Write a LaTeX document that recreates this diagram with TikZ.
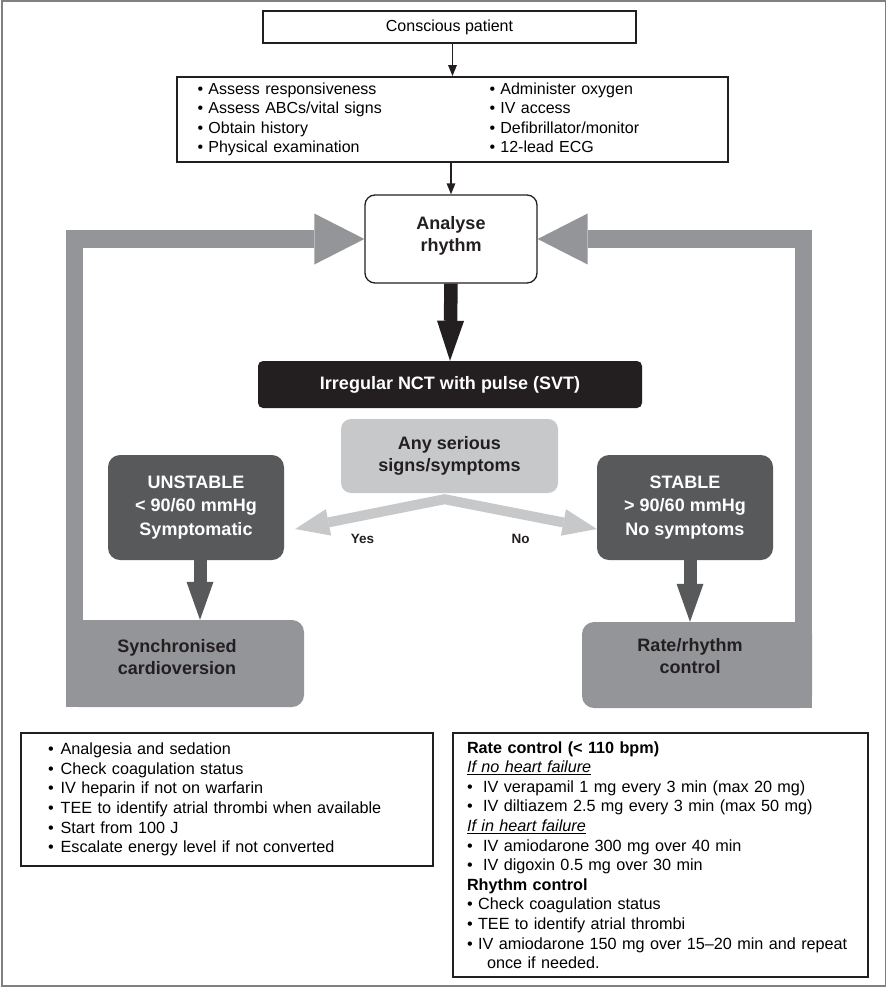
\documentclass[tikz,border=0pt]{standalone}
\usepackage{fontspec}
\setmainfont{Liberation Sans}
\usetikzlibrary{arrows.meta, positioning}

\definecolor{bandgray}{HTML}{939598}
\definecolor{boxdark}{HTML}{58595B}
\definecolor{boxlight}{HTML}{C7C8CA}
\definecolor{inkblack}{HTML}{231F20}

\tikzset{
  linebox/.style={draw=inkblack, line width=1.8pt, fill=white, inner sep=0pt,
    font=\fontsize{16}{19.3}\selectfont},
  softbox/.style={rounded corners=10pt, inner sep=0pt, align=center,
    font=\bfseries\fontsize{18}{22}\selectfont},
  listtext/.style={align=left, font=\fontsize{16.2}{19.6}\selectfont},
  thinarrow/.style={->, line width=1.3pt, draw=inkblack},
  blackband/.style={line width=13.5pt, draw=inkblack,
    -{Triangle[length=40pt, width=27pt, line width=0pt]}},
  darkband/.style={line width=13pt, draw=boxdark,
    -{Triangle[length=38pt, width=27pt, line width=0pt]}},
  forkband/.style={line width=10pt, draw=boxlight,
    {Triangle[length=34pt, width=27pt, line width=0pt]}-{Triangle[length=34pt, width=27pt, line width=0pt]}},
  loopband/.style={line width=17.5pt, draw=bandgray,
    -{Triangle[length=50pt, width=51pt, line width=0pt]}},
  answer/.style={font=\bfseries\fontsize{13.5}{16}\selectfont, text=inkblack, inner sep=0pt}
}

\begin{document}
\begin{tikzpicture}[x=1pt, y=-1pt, >={Triangle[length=11pt, width=8.5pt]}]
  \useasboundingbox (0,0) rectangle (888,988);

  % Frame
  \draw[gray, line width=1.2pt] (2,1) rectangle (885.5,986);

  % First steps
  \node[linebox, minimum width=373pt, minimum height=32pt] (patient) at (449.5,27) {Conscious patient};
  \node[linebox, minimum width=551pt, minimum height=85pt, text width=510pt, align=left] (assess) at (452.5,119.5) {%
    \begin{tabular}{@{}p{292pt}@{}l@{}}
      \textbullet\ Assess responsiveness & \textbullet\ Administer oxygen\\
      \textbullet\ Assess ABCs/vital signs & \textbullet\ IV access\\
      \textbullet\ Obtain history & \textbullet\ Defibrillator/monitor\\
      \textbullet\ Physical examination & \textbullet\ 12-lead ECG
    \end{tabular}};
  \node[softbox, draw=inkblack, line width=1.3pt, fill=white,
    minimum width=172pt, minimum height=88pt] (analyse) at (451,239) {};
  \node[softbox, text=inkblack] (analysetext) at ([yshift=3pt]analyse.center) {Analyse\\rhythm};

  \draw[thinarrow] (assess.north |- patient.south) -- (assess.north);
  \draw[thinarrow] (analyse.north |- assess.south) -- (analyse.north);

  % Rhythm and decision
  \node[softbox, rounded corners=5pt, fill=inkblack, text=white,
    minimum width=384pt, minimum height=47pt] (svt) at (450,384.5) {Irregular NCT with pulse (SVT)};
  \node[softbox, fill=boxlight, text=inkblack,
    minimum width=217pt, minimum height=74pt] (serious) at (449.5,456) {Any serious\\signs/symptoms};
  \node[softbox, rounded corners=12pt, fill=boxdark, text=white, minimum width=176pt, minimum height=105pt,
    font=\bfseries\fontsize{18}{23.5}\selectfont] (unstable) at (196,507.5) {UNSTABLE\\< 90/60 mmHg\\Symptomatic};
  \node[softbox, rounded corners=12pt, fill=boxdark, text=white, minimum width=176pt, minimum height=105pt,
    font=\bfseries\fontsize{18}{23.5}\selectfont] (stable) at (685,507.5) {STABLE\\> 90/60 mmHg\\No symptoms};

  \draw[blackband] (analyse.south) -- (svt.north);

  \coordinate (fork) at ([xshift=-5pt, yshift=-6pt]serious.south);
  \coordinate (yestip) at ([xshift=11pt, yshift=-21.5pt]unstable.east);
  \coordinate (notip) at ([yshift=-21.5pt]stable.west);
  \draw[forkband] (yestip) -- (fork) -- (notip);
  \node[answer] (yes) at (362.5,538.5) {Yes};
  \node[answer] (no) at (520.5,538.5) {No};

  % Treatment
  \node[softbox, rounded corners=12pt, fill=bandgray,
    minimum width=238pt, minimum height=87pt] (sync) at (185,663.5) {};
  \node[softbox, rounded corners=12pt, fill=bandgray,
    minimum width=230pt, minimum height=86pt] (rate) at (697,665) {};
  \fill[bandgray] (sync.north west) rectangle ([xshift=20pt]sync.south west);
  \fill[bandgray] ([xshift=-20pt]rate.north east) rectangle (rate.south east);
  \node[softbox, text=inkblack] (synctext) at ([xshift=-8pt, yshift=6.5pt]sync.center) {Synchronised\\cardioversion};
  \node[softbox, text=inkblack] (ratetext) at ([xshift=-7pt, yshift=8.5pt]rate.center) {Rate/rhythm\\control};

  \coordinate (ucut) at ([xshift=4pt]unstable.south);
  \coordinate (scut) at ([xshift=5pt]stable.south);
  \draw[darkband] (ucut) -- (ucut |- sync.north);
  \draw[darkband] (scut) -- (scut |- rate.north);

  % Back to rhythm analysis
  \coordinate (lfoot) at ([xshift=8.5pt]sync.north west);
  \coordinate (rfoot) at ([xshift=-8.5pt]rate.north east);
  \draw[loopband] (lfoot) |- (analyse.west);
  \draw[loopband] (rfoot) |- (analyse.east);

  % Details
  \node[linebox, listtext, minimum width=412pt, minimum height=133pt, text width=358pt] (cardiolist) at (227,799.5) {%
    \textbullet\hspace{7pt}Analgesia and sedation\\
    \textbullet\hspace{7pt}Check coagulation status\\
    \textbullet\hspace{7pt}IV heparin if not on warfarin\\
    \textbullet\hspace{7pt}TEE to identify atrial thrombi when available\\
    \textbullet\hspace{7pt}Start from 100 J\\
    \textbullet\hspace{7pt}Escalate energy level if not converted};
  \node[linebox, listtext, minimum width=415pt, minimum height=244pt, text width=387pt] (ratelist) at (660.5,855) {%
    \textbf{Rate control (< 110 bpm)}\\
    \underline{\textit{If no heart failure}}\\
    \textbullet\hspace{10.4pt}IV verapamil 1 mg every 3 min (max 20 mg)\\
    \textbullet\hspace{10.4pt}IV diltiazem 2.5 mg every 3 min (max 50 mg)\\
    \underline{\textit{If in heart failure}}\\
    \textbullet\hspace{10.4pt}IV amiodarone 300 mg over 40 min\\
    \textbullet\hspace{10.4pt}IV digoxin 0.5 mg over 30 min\\
    \textbf{Rhythm control}\\
    \textbullet\ Check coagulation status\\
    \textbullet\ TEE to identify atrial thrombi\\
    \textbullet\ IV amiodarone 150 mg over 15--20 min and repeat\\
    \hspace*{20pt}once if needed.};
\end{tikzpicture}
\end{document}
